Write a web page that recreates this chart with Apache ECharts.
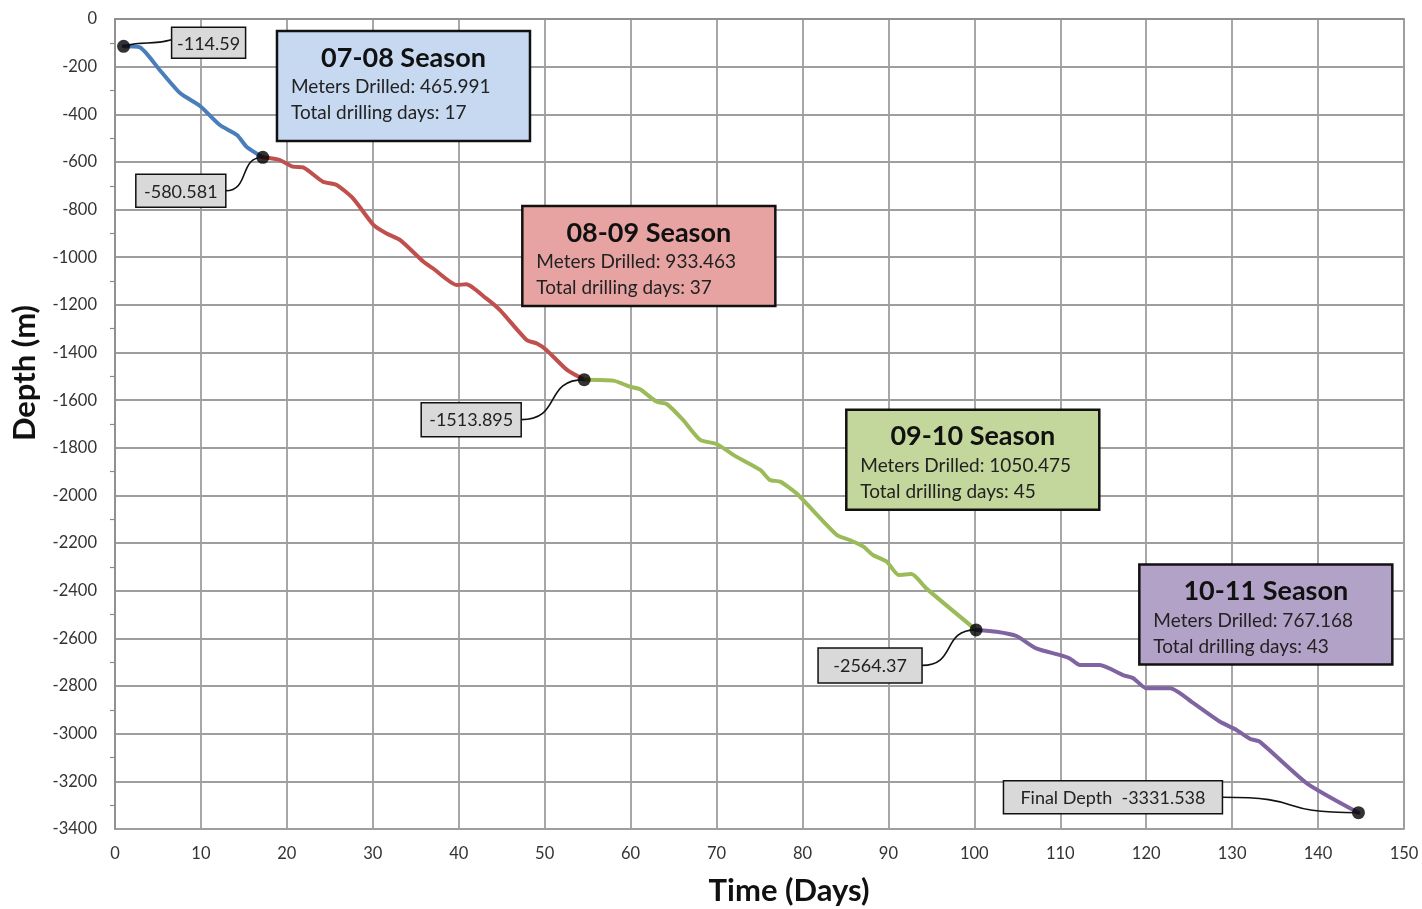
<!DOCTYPE html>
<html>
<head>
<meta charset="utf-8">
<script src="https://cdn.jsdelivr.net/npm/echarts@6/dist/echarts.min.js"></script>
<style>
html,body{margin:0;padding:0;background:#fff;}
#chart{width:1422px;height:909px;}
</style>
</head>
<body>
<div id="chart"></div>
<script>
// ---- Data ----
var days0708  = [1, 2.9, 5.2, 7.6, 9.9, 12.2, 14.2, 15.3, 17.2];
var depth0708 = [-114.59, -119, -214, -312, -365, -445, -487, -536, -580.581];

var days0809  = [17.2, 19.2, 20.7, 21.9, 24.2, 25.8, 27.7, 30.1, 31.6, 33.2, 35.9, 37.0, 39.8, 40.9, 43.2, 44.8, 47.9, 49.1, 50.2, 52.6, 54.6];
var depth0809 = [-580.581, -592, -620, -623, -683, -697, -753, -865, -900, -928, -1019, -1047, -1117, -1113, -1173, -1222, -1347, -1362, -1389, -1473, -1513.895];

var days0910  = [54.6, 58.0, 59.9, 61.1, 63.0, 64.2, 66.1, 68.1, 70.0, 72.3, 75.1, 76.2, 77.4, 79.3, 84.0, 85.5, 87.1, 88.2, 89.8, 91.2, 92.7, 94.4, 100.2];
var depth0910 = [-1513.895, -1518, -1543, -1554, -1606, -1616, -1683, -1767, -1784, -1837, -1893, -1935, -1942, -1991, -2166, -2187, -2215, -2250, -2278, -2334, -2330, -2390, -2564.37];

var days1011  = [100.2, 102.6, 104.9, 107.2, 110.0, 111.1, 112.3, 114.6, 117.3, 118.5, 120.0, 122.8, 125.5, 128.6, 130.5, 132.1, 133.2, 138.7, 144.7];
var depth1011 = [-2564.37, -2572, -2590, -2642, -2670, -2684, -2712, -2712, -2754, -2767, -2809, -2809, -2872, -2950, -2984, -3022, -3033, -3208, -3331.538];

var seasonNames   = ['07-08 Season', '08-09 Season', '09-10 Season', '10-11 Season'];
var metersDrilled = ['465.991', '933.463', '1050.475', '767.168'];
var drillingDays  = [17, 37, 45, 43];
var seasonColors  = ['#4a7ebb', '#c0504d', '#9bbb59', '#8064a2'];
var seasonFills   = ['#c6d9f1', '#e6a3a2', '#c3d69b', '#b3a2c7'];

var calloutTexts = ['-114.59', '-580.581', '-1513.895', '-2564.37', 'Final Depth  -3331.538'];

var xTicks = {min: 0, max: 150, interval: 10};
var yTicks = {min: -3400, max: 0, interval: 200};

// ---- Build ----
var FONT = 'Lato, "Liberation Sans", sans-serif';
function zip(a, b) { return a.map(function (v, i) { return [v, b[i]]; }); }
var segs = [[days0708, depth0708], [days0809, depth0809], [days0910, depth0910], [days1011, depth1011]];

var endpoints = [zip(days0708, depth0708)[0]];
segs.forEach(function (s) { endpoints.push([s[0][s[0].length - 1], s[1][s[1].length - 1]]); });

var series = segs.map(function (s, i) {
  return {
    type: 'line', name: seasonNames[i], data: zip(s[0], s[1]),
    showSymbol: false, smooth: 0.2, z: 3,
    lineStyle: {color: seasonColors[i], width: 4, cap: 'round', join: 'round'},
    animation: false
  };
});
series.push({
  type: 'scatter', data: endpoints, symbolSize: 13, z: 5,
  itemStyle: {color: '#000'}, animation: false
});

var chart = echarts.init(document.getElementById('chart'), null, {renderer: 'canvas'});
chart.setOption({
  backgroundColor: '#fff',
  animation: false,
  grid: {left: 115, top: 19, right: 18, bottom: 80, show: true, borderColor: '#8c8c8c', borderWidth: 1.5},
  xAxis: {
    type: 'value', min: xTicks.min, max: xTicks.max, interval: xTicks.interval,
    axisLine: {show: true, lineStyle: {color: '#8c8c8c', width: 1.5}},
    axisTick: {show: false},
    axisLabel: {color: '#333', fontSize: 16.5, fontFamily: FONT, margin: 16},
    splitLine: {show: true, lineStyle: {color: '#9e9e9e', width: 1.8}}
  },
  yAxis: {
    type: 'value', min: yTicks.min, max: yTicks.max, interval: yTicks.interval,
    axisLine: {show: true, onZero: false, lineStyle: {color: '#8c8c8c', width: 1.5}},
    axisTick: {show: false},
    minorTick: {show: true, splitNumber: 2, length: 5, lineStyle: {color: '#8c8c8c', width: 1.2}},
    axisLabel: {color: '#333', fontSize: 16.5, fontFamily: FONT, margin: 18, formatter: function (v) { return String(v); }},
    splitLine: {show: true, lineStyle: {color: '#9e9e9e', width: 1.8}}
  },
  series: series
});

function px(pt) { return chart.convertToPixel({gridIndex: 0}, pt); }

var graphics = [];
// axis titles
graphics.push({type: 'text', x: 789, y: 891, style: {text: 'Time (Days)', font: 'bold 31px ' + FONT, fill: '#111', textAlign: 'center', textVerticalAlign: 'middle'}});
graphics.push({type: 'text', x: 25, y: 373, rotation: Math.PI / 2, style: {text: 'Depth (m)', font: 'bold 31px ' + FONT, fill: '#111', textAlign: 'center', textVerticalAlign: 'middle'}});

// season boxes (anchored in data space)
var boxAnchors = [[18.85, -50], [47.4, -785], [85.1, -1640], [119.2, -2290]];
var boxW = 253;
boxAnchors.forEach(function (a, i) {
  var p = px(a);
  var h = i === 0 ? 110 : 100;
  graphics.push({type: 'rect', shape: {x: p[0], y: p[1], width: boxW, height: h}, style: {fill: seasonFills[i], stroke: '#111', lineWidth: 2.5}, z: 10});
  graphics.push({type: 'text', x: p[0] + boxW / 2, y: p[1] + 27, style: {text: seasonNames[i], font: 'bold 27px ' + FONT, fill: '#111', textAlign: 'center', textVerticalAlign: 'middle'}, z: 11});
  graphics.push({type: 'text', x: p[0] + 14, y: p[1] + 56, style: {text: 'Meters Drilled: ' + metersDrilled[i], font: '19px ' + FONT, fill: '#222', textAlign: 'left', textVerticalAlign: 'middle'}, z: 11});
  graphics.push({type: 'text', x: p[0] + 14, y: p[1] + 82, style: {text: 'Total drilling days: ' + drillingDays[i], font: '19px ' + FONT, fill: '#222', textAlign: 'left', textVerticalAlign: 'middle'}, z: 11});
});

// callouts: label box relative to dot (left, top offsets, width, height), attachment side
var calloutLayout = [
  {dx: 48, dy: -19, w: 74, h: 31, side: 'left'},
  {dx: -127, dy: 17, w: 90, h: 33, side: 'right'},
  {dx: -163, dy: 23, w: 100, h: 34, side: 'right'},
  {dx: -158, dy: 18, w: 104, h: 35, side: 'right'},
  {dx: -355, dy: -32, w: 219, h: 33, side: 'right'}
];
endpoints.forEach(function (e, i) {
  var p = px(e), L = calloutLayout[i];
  var bx = p[0] + L.dx, by = p[1] + L.dy;
  graphics.push({type: 'rect', shape: {x: bx, y: by, width: L.w, height: L.h}, style: {fill: '#d9d9d9', stroke: '#111', lineWidth: 1.5}, z: 8});
  graphics.push({type: 'text', x: bx + L.w / 2, y: by + L.h / 2 + 1, style: {text: calloutTexts[i], font: '18px ' + FONT, fill: '#222', textAlign: 'center', textVerticalAlign: 'middle'}, z: 9});
  var sx, sy, c1, c2;
  if (L.side === 'left') {
    sx = bx; sy = by + L.h / 2 - 3;
    c1 = [p[0] + 25, p[1]]; c2 = [sx - 25, sy];
  } else {
    sx = bx + L.w; sy = by + L.h / 2;
    var mid = (sx + p[0]) / 2;
    c1 = [mid + (p[0] - sx) * 0.15, sy]; c2 = [mid - (p[0] - sx) * 0.15, p[1]];
  }
  graphics.push({type: 'bezierCurve', shape: {x1: sx, y1: sy, cpx1: c1[0], cpy1: c1[1], cpx2: c2[0], cpy2: c2[1], x2: p[0], y2: p[1]}, style: {stroke: '#111', lineWidth: 1.6, fill: null}, z: 7});
});
chart.setOption({graphic: graphics});
</script>
</body>
</html>
